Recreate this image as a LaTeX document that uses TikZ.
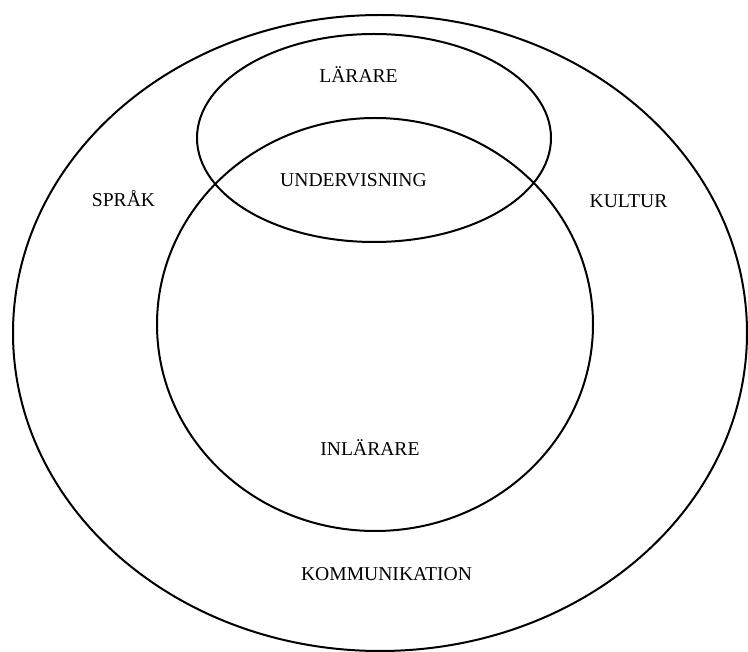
\documentclass[tikz,border=0pt]{standalone}
\usepackage{fontspec}
\setmainfont{Liberation Serif}
\begin{document}
\begin{tikzpicture}[x=1pt,y=-1pt,
  ring/.style={draw=black,line width=2pt},
  lbl/.style={anchor=base,inner sep=0pt,font=\fontsize{19.6}{24}\selectfont}]
\useasboundingbox (0,0) rectangle (748,652);
\draw[ring] (380,333) ellipse [x radius=367,y radius=318];
\draw[ring] (375,324.5) ellipse [x radius=218,y radius=206.5];
\draw[ring] (374,138) ellipse [x radius=177,y radius=104];
\node[lbl] (larare) at (358.5,83) {LÄRARE};
\node[lbl] (undervisning) at (353.5,187) {UNDERVISNING};
\node[lbl] (sprak) at (123.5,207) {SPRÅK};
\node[lbl] (kultur) at (628.5,208) {KULTUR};
\node[lbl] (inlarare) at (370,456) {INLÄRARE};
\node[lbl] (kommunikation) at (386.5,580) {KOMMUNIKATION};
\end{tikzpicture}
\end{document}
